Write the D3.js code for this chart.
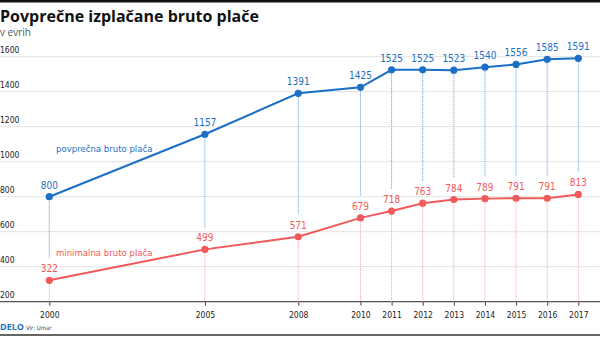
<!DOCTYPE html>
<html><head><meta charset="utf-8">
<script src="https://cdn.jsdelivr.net/npm/d3@7"></script>
<style>
body{margin:0;background:#fff;}
svg{display:block;}
text{font-family:"Open Sans","Noto Sans",sans-serif;}
.c{font-family:"DejaVu Sans Condensed","Liberation Sans Narrow","Roboto",sans-serif;font-stretch:condensed;}
</style></head>
<body><svg id="chart" width="600" height="337"></svg>
<script>
const years = [2000, 2005, 2008, 2010, 2011, 2012, 2013, 2014, 2015, 2016, 2017];
const avgWage = [800, 1157, 1391, 1425, 1525, 1525, 1523, 1540, 1556, 1585, 1591];
const minWage = [322, 499, 571, 679, 718, 763, 784, 789, 791, 791, 813];
const yTicks = [200, 400, 600, 800, 1000, 1200, 1400, 1600];
const title = "Povprečne izplačane bruto plače";
const subtitle = "v evrih";
const avgLabel = "povprečna bruto plača";
const minLabel = "minimalna bruto plača";
const source = "Vir: Umar";

const blue = "#1b6fc6", blueLight = "#4d9be0";
const red = "#f15a5a", redLight = "#f59a9a";

const svg = d3.select("#chart");
const x = d3.scaleLinear().domain([2000, 2017]).range([49.3, 578.3]);
const y = d3.scaleLinear().domain([200, 1600]).range([301.7, 56.7]);

// top bar
svg.append("rect").attr("x", 0).attr("y", 0).attr("width", 600).attr("height", 2.5).attr("fill", "#111");
svg.append("text").attr("x", 0).attr("y", 21.5).attr("font-size", 16).attr("font-weight", 700)
  .attr("fill", "#111").text(title);
svg.append("text").attr("x", 0).attr("y", 36).attr("font-size", 10).attr("fill", "#555").text(subtitle);

// grid
const grid = svg.append("g");
yTicks.slice(1).forEach(t => {
  grid.append("line").attr("x1", 0).attr("x2", 600).attr("y1", y(t)).attr("y2", y(t))
    .attr("stroke", "#e3e3e3").attr("stroke-width", 1);
});
yTicks.forEach(t => {
  grid.append("text").attr("class", "c").attr("x", 0).attr("y", y(t) - 3.5)
    .attr("font-size", 8.5).attr("fill", "#222").text(t);
});

// x axis
const xAxis = d3.axisBottom(x).tickValues(years).tickFormat(d3.format("d")).tickSize(4).tickPadding(6);
const ax = svg.append("g").attr("transform", `translate(0,${y(200)})`).call(xAxis);
ax.select(".domain").remove();
ax.selectAll(".tick line").attr("stroke", "#444");
ax.selectAll(".tick text").attr("class", "c").attr("font-size", 8.5).attr("fill", "#222");
svg.append("line").attr("x1", 0).attr("x2", 600).attr("y1", y(200)).attr("y2", y(200))
  .attr("stroke", "#555").attr("stroke-width", 1.2);

// drop lines
const drops = svg.append("g");
years.forEach((yr, i) => {
  drops.append("line").attr("x1", x(yr)).attr("x2", x(yr))
    .attr("y1", y(avgWage[i])).attr("y2", y(minWage[i]) - 22)
    .attr("stroke", blueLight).attr("stroke-width", 1).attr("stroke-dasharray", "1,1");
  drops.append("line").attr("x1", x(yr)).attr("x2", x(yr))
    .attr("y1", y(minWage[i])).attr("y2", y(200))
    .attr("stroke", redLight).attr("stroke-width", 1).attr("stroke-dasharray", "1,1");
});

const line = d3.line().x(d => x(d[0])).y(d => y(d[1]));
function series(vals, color, dy) {
  const pts = years.map((yr, i) => [yr, vals[i]]);
  svg.append("path").datum(pts).attr("d", line).attr("fill", "none")
    .attr("stroke", color).attr("stroke-width", 2);
  svg.append("g").selectAll("circle").data(pts).join("circle")
    .attr("cx", d => x(d[0])).attr("cy", d => y(d[1])).attr("r", 3.6).attr("fill", color);
  svg.append("g").selectAll("text").data(pts).join("text").attr("class", "c")
    .attr("x", d => x(d[0])).attr("y", d => y(d[1]) + dy).attr("text-anchor", "middle")
    .attr("font-size", 10).attr("fill", color).text(d => d[1]);
}
series(avgWage, blue, -8);
series(minWage, red, -8);

svg.append("text").attr("class", "c").attr("x", 56).attr("y", 152).attr("font-size", 9.5)
  .attr("fill", blue).text(avgLabel);
svg.append("text").attr("class", "c").attr("x", 56).attr("y", 256).attr("font-size", 9.5)
  .attr("fill", red).text(minLabel);

// footer
svg.append("text").attr("x", 0).attr("y", 330).attr("font-family", "Liberation Serif, serif")
  .attr("font-weight", 700).attr("font-size", 9).attr("fill", "#1b6fc6").text("DELO");
svg.append("text").attr("class", "c").attr("x", 26).attr("y", 330).attr("font-size", 6)
  .attr("fill", "#444").text(source);
svg.append("rect").attr("x", 0).attr("y", 334).attr("width", 600).attr("height", 2).attr("fill", "#666");
</script></body></html>
